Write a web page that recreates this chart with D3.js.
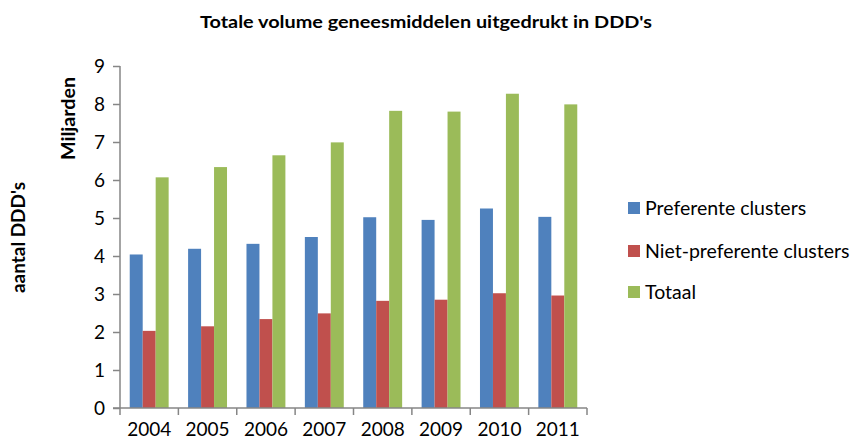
<!DOCTYPE html>
<html>
<head>
<meta charset="utf-8">
<script src="https://cdn.jsdelivr.net/npm/d3@7"></script>
<style>
  body { margin: 0; background: #fff; }
  text { font-family: Lato, "Open Sans", sans-serif; fill: #000; }
</style>
</head>
<body>
<div id="chart"></div>
<script>
// data (in billions of DDD's)
var years = ["2004", "2005", "2006", "2007", "2008", "2009", "2010", "2011"];
var seriesNames = ["Preferente clusters", "Niet-preferente clusters", "Totaal"];
var preferente = [4.04, 4.19, 4.32, 4.50, 5.02, 4.95, 5.25, 5.03];
var nietPreferente = [2.03, 2.15, 2.34, 2.49, 2.82, 2.85, 3.02, 2.96];
var totaal = [6.07, 6.34, 6.65, 6.99, 7.82, 7.80, 8.27, 7.99];
var yTicks = [0, 1, 2, 3, 4, 5, 6, 7, 8, 9];

var colors = ["#4F81BD", "#C0504D", "#9BBB59"];
var seriesValues = [preferente, nietPreferente, totaal];

var svgWidth = 856;
var svgHeight = 446;
var margin = {top: 66, right: 269, bottom: 38, left: 120};
var width = svgWidth - margin.left - margin.right;
var height = svgHeight - margin.top - margin.bottom;

var svg = d3.select("#chart")
    .append("svg")
    .attr("width", svgWidth)
    .attr("height", svgHeight);

var chart = svg.append("g")
    .attr("transform", "translate(" + margin.left + "," + margin.top + ")");

var x0 = d3.scaleBand().domain(years).range([0, width]).paddingInner(0).paddingOuter(0);
var x1 = d3.scaleBand().domain(d3.range(seriesNames.length))
    .range([0, x0.bandwidth()]).paddingInner(0).paddingOuter(0.75);
var y = d3.scaleLinear().domain([0, 9]).range([height, 0]);

// bars
var table = years.map(function(yr, i) {
    return seriesValues.map(function(vals, s) { return {year: yr, s: s, v: vals[i]}; });
});

chart.selectAll("g.year")
    .data(table)
    .enter()
    .append("g")
    .attr("class", "year")
    .attr("transform", function(d, i) { return "translate(" + x0(years[i]) + ",0)"; })
    .selectAll("rect")
    .data(function(d) { return d; })
    .enter()
    .append("rect")
    .attr("x", function(d) { return x1(d.s); })
    .attr("width", x1.bandwidth())
    .attr("y", function(d) { return y(d.v); })
    .attr("height", function(d) { return height - y(d.v); })
    .attr("fill", function(d) { return colors[d.s]; });

// y axis
var leftAxis = d3.axisLeft(y).tickValues(yTicks).tickSize(7).tickPadding(8).tickFormat(d3.format("d"));
var gy = chart.append("g").call(leftAxis);
gy.select(".domain").attr("stroke", "#868686").attr("stroke-width", 1.5).attr("d", "M0," + height + "V0");
gy.selectAll(".tick line").attr("stroke", "#868686").attr("stroke-width", 1.5);
gy.selectAll(".tick text").attr("font-size", "19px").attr("font-family", "Lato, sans-serif");

// x axis, ticks on category boundaries
var bottomAxis = d3.axisBottom(x0).tickSize(0).tickPadding(15);
var gx = chart.append("g").attr("transform", "translate(0," + height + ")").call(bottomAxis);
gx.select(".domain").attr("stroke", "#868686").attr("stroke-width", 1.5).attr("d", "M-7,0H" + width);
gx.selectAll(".tick text").attr("font-size", "19px").attr("font-family", "Lato, sans-serif");
gx.selectAll("line.sep")
    .data(years.concat(["end"]))
    .enter()
    .append("line")
    .attr("class", "sep")
    .attr("x1", function(d, i) { return i * x0.bandwidth(); })
    .attr("x2", function(d, i) { return i * x0.bandwidth(); })
    .attr("y1", 0)
    .attr("y2", 7)
    .attr("stroke", "#868686")
    .attr("stroke-width", 1.5);

// title
svg.append("text")
    .attr("x", 200)
    .attr("y", 28)
    .attr("font-size", "17px")
    .attr("font-weight", "bold")
    .attr("textLength", 452)
    .attr("lengthAdjust", "spacingAndGlyphs")
    .text("Totale volume geneesmiddelen uitgedrukt in DDD's");

// axis titles
svg.append("text")
    .attr("transform", "translate(75,160) rotate(-90)")
    .attr("font-size", "18px")
    .attr("font-weight", "bold")
    .attr("textLength", 83)
    .attr("lengthAdjust", "spacingAndGlyphs")
    .text("Miljarden");

svg.append("text")
    .attr("transform", "translate(25,293) rotate(-90)")
    .attr("font-size", "18px")
    .attr("font-weight", "bold")
    .attr("textLength", 111)
    .attr("lengthAdjust", "spacingAndGlyphs")
    .text("aantal DDD's");

// legend
var legend = svg.append("g").attr("transform", "translate(628,0)");
var legendY = [208, 251, 292];
var items = legend.selectAll("g.item")
    .data(seriesNames)
    .enter()
    .append("g")
    .attr("class", "item")
    .attr("transform", function(d, i) { return "translate(0," + legendY[i] + ")"; });
items.append("rect")
    .attr("x", 0)
    .attr("y", -6)
    .attr("width", 12)
    .attr("height", 12)
    .attr("fill", function(d, i) { return colors[i]; });
items.append("text")
    .attr("x", 17)
    .attr("y", 7)
    .attr("font-size", "19.5px")
    .text(function(d) { return d; });
</script>
</body>
</html>
